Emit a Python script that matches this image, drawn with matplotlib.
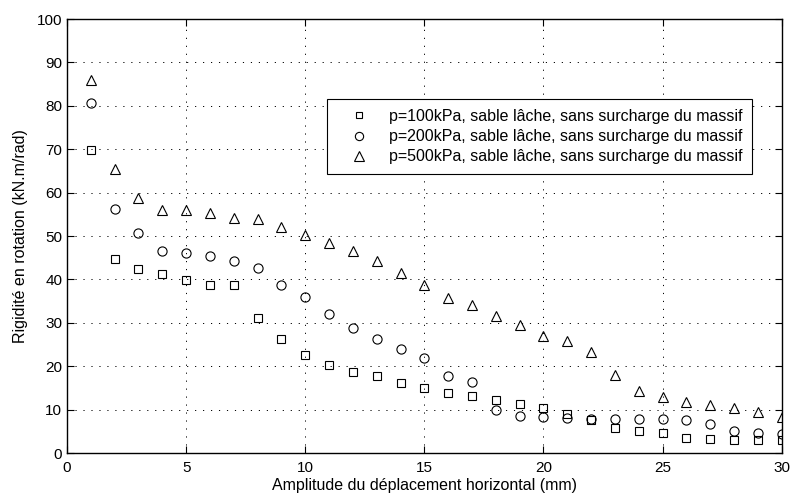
import numpy as np
import matplotlib.pyplot as plt

plt.rcParams['font.family'] = ['Liberation Sans', 'DejaVu Sans']

# Données
x = np.arange(1, 31)
k_100 = [69.9, 44.8, 42.3, 41.2, 39.8, 38.8, 38.6, 31.2, 26.2, 22.6,
         20.2, 18.6, 17.8, 16.1, 14.9, 13.9, 13.2, 12.2, 11.3, 10.3,
         9.0, 7.5, 5.8, 5.1, 4.5, 3.5, 3.2, 3.1, 3.0, 3.0]
k_200 = [80.6, 56.2, 50.8, 46.6, 46.0, 45.3, 44.2, 42.6, 38.6, 35.9,
         32.1, 28.7, 26.2, 23.9, 21.8, 17.7, 16.3, 9.9, 8.5, 8.2,
         8.1, 7.8, 7.9, 7.8, 7.9, 7.6, 6.6, 5.1, 4.6, 4.4]
k_500 = [86.0, 65.5, 58.8, 56.0, 56.1, 55.2, 54.1, 53.9, 52.1, 50.3,
         48.4, 46.6, 44.2, 41.5, 38.6, 35.7, 34.2, 31.6, 29.4, 26.9,
         25.8, 23.2, 17.9, 14.2, 12.8, 11.8, 11.1, 10.3, 9.4, 8.2]
labels = ['p=100kPa, sable lâche, sans surcharge du massif',
          'p=200kPa, sable lâche, sans surcharge du massif',
          'p=500kPa, sable lâche, sans surcharge du massif']

fig = plt.figure(figsize=(7.92, 4.95), dpi=100)
ax = fig.add_axes([0.0846, 0.0848, 0.9024, 0.8768])

ax.plot(x, k_100, 's', ms=5.3, mfc='none', mec='black', mew=0.8, label=labels[0])
ax.plot(x, k_200, 'o', ms=6.6, mfc='none', mec='black', mew=0.8, label=labels[1])
ax.plot(x, k_500, '^', ms=7.7, mfc='none', mec='black', mew=0.8, label=labels[2])

ax.set_xlim(0, 30)
ax.set_ylim(0, 100)
ax.set_xticks(range(0, 31, 5))
ax.set_yticks(range(0, 101, 10))
ax.grid(True, linestyle=(0, (1.2, 7)), color='black', linewidth=0.7)
ax.tick_params(direction='in', top=True, right=True, labelsize=11, length=5)
ax.tick_params(axis='x', pad=6)
for s in ax.spines.values():
    s.set_linewidth(1.0)

ax.set_xlabel('Amplitude du déplacement horizontal (mm)', fontsize=11.5, labelpad=2)
ax.set_ylabel('Rigidité en rotation (kN.m/rad)', fontsize=11.5, labelpad=6)

leg = ax.legend(loc='upper right', bbox_to_anchor=(0.958, 0.815), fontsize=11.5,
                frameon=True, fancybox=False, edgecolor='black', framealpha=1,
                borderpad=0.6, handlelength=2.8, handletextpad=0.45,
                labelspacing=0.33, borderaxespad=0, markerscale=0.9)
leg.get_frame().set_linewidth(0.8)

fig.savefig('out.png', dpi=100)
